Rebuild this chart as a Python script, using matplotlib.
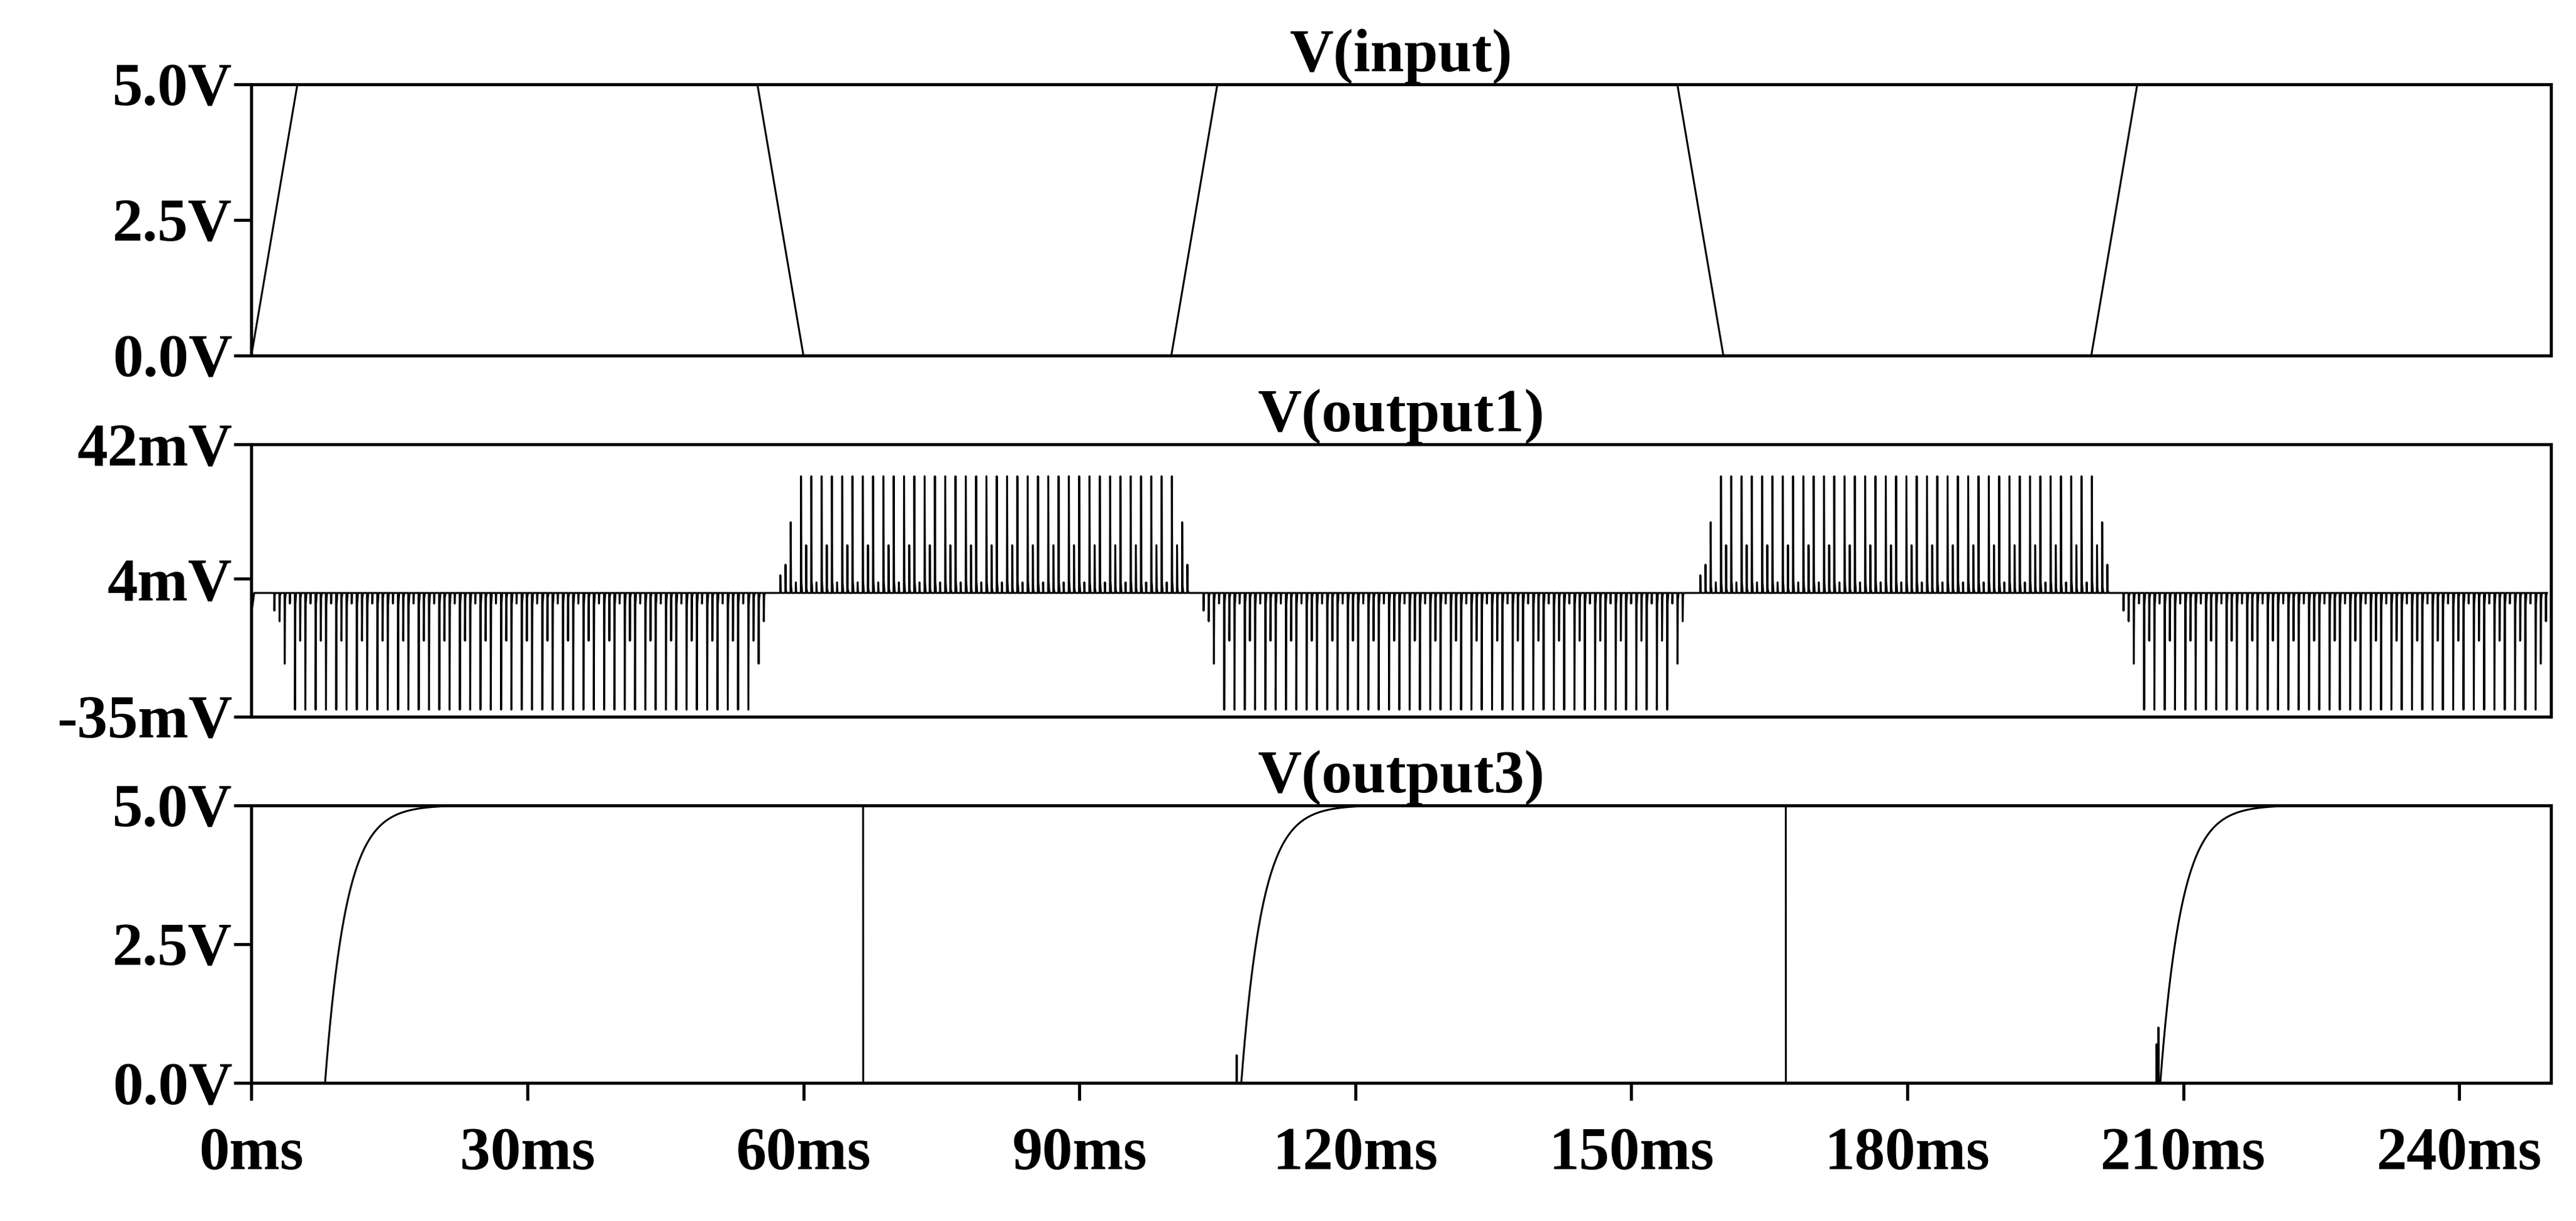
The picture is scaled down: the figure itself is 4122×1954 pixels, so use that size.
import numpy as np
import matplotlib
matplotlib.use("Agg")
from matplotlib import pyplot as plt

plt.rcParams['font.family'] = ['Liberation Serif', 'DejaVu Serif']
plt.rcParams['font.weight'] = 'bold'

# input trapezoid corners (ms, V)
in_t = [0, 5, 55, 60, 100, 105, 155, 160, 200, 205, 250]
in_v = [0, 5, 5, 0, 0, 5, 5, 0, 0, 5, 5]

# output1 spike bursts: (start ms, end ms, sign)
burst_start = [2.5, 57.5, 103.5, 157.5, 203.5]
burst_end = [56.5, 102.5, 156.5, 202.5, 250]
burst_sign = [-1, 1, -1, 1, -1]
spike_period = 0.56   # ms
big_amp = 33.0        # mV
mid_amp = 13.5        # mV
small_amp = 3.0       # mV
edge_amps = [5.0, 8.0, 20.0]  # leading spikes of each burst

# output3 charge events
rise_t = [8.0, 107.6, 207.5]
fall_t = [66.5, 166.8]
rise_tau = 2.3       # ms
glitch_t = [107.1, 207.1, 207.3]
glitch_v = [0.5, 0.7, 1.0]

# ---- build traces
t1 = [0, 0.3, 0.6]
v1 = [-6, 0, 0]
for s, e, sg in zip(burst_start, burst_end, burst_sign):
    n = int((e - s) / spike_period)
    for k in range(n):
        tk = s + k * spike_period
        if k < len(edge_amps):
            a = edge_amps[k]
        elif k >= n - 2:
            a = edge_amps[n - k]
        else:
            a = big_amp if k % 2 == 0 else (mid_amp if k % 4 == 1 else small_amp)
        t1 += [tk - 0.02, tk, tk + 0.04, tk + 0.12]
        v1 += [0, sg * a, sg * a * 0.1, 0]
t1 = np.array(t1)
v1 = np.array(v1)

t3 = np.linspace(0, 250, 25001)
v3 = np.zeros_like(t3)
for r, f in zip(rise_t, fall_t + [1e9]):
    m = (t3 >= r) & (t3 < f)
    v3[m] = 5 * (1 - np.exp(-(t3[m] - r) / rise_tau))
for g, gv in zip(glitch_t, glitch_v):
    idx = np.argmin(abs(t3 - g))
    v3[idx] = gv

fig = plt.figure(figsize=(41.22, 19.54), dpi=100)
ax1 = fig.add_axes([0.0976, 0.709, 0.8928, 0.222])
ax2 = fig.add_axes([0.0976, 0.413, 0.8928, 0.223])
ax3 = fig.add_axes([0.0976, 0.113, 0.8928, 0.2275])

lw = 2.2
ax1.plot(in_t, in_v, 'k', lw=lw)
ax2.plot(t1, v1, 'k', lw=lw)
ax3.plot(t3, v3, 'k', lw=lw)

ax1.set_ylim(0, 5)
ax1.set_yticks([0, 2.5, 5])
ax1.set_yticklabels(['0.0V', '2.5V', '5.0V'])
ax2.set_ylim(-35, 42)
ax2.set_yticks([-35, 4, 42])
ax2.set_yticklabels(['-35mV', '4mV', '42mV'])
ax3.set_ylim(0, 5)
ax3.set_yticks([0, 2.5, 5])
ax3.set_yticklabels(['0.0V', '2.5V', '5.0V'])

fs = 70
for ax, title in zip([ax1, ax2, ax3], ['V(input)', 'V(output1)', 'V(output3)']):
    ax.set_xlim(0, 250)
    ax.set_title(title, fontsize=fs, fontweight='bold', pad=2)
    for sp in ax.spines.values():
        sp.set_linewidth(3.5)
    ax.tick_params(axis='y', direction='out', length=20, width=3.5, labelsize=fs, pad=2)
    ax.set_xticks(np.arange(0, 250, 30))
ax1.tick_params(axis='x', length=0, labelbottom=False)
ax2.tick_params(axis='x', length=0, labelbottom=False)
ax3.set_xticklabels([f'{x}ms' for x in range(0, 250, 30)])
ax3.tick_params(axis='x', direction='out', length=20, width=3.5, labelsize=fs, pad=30)

fig.savefig('out.png', dpi=100)
